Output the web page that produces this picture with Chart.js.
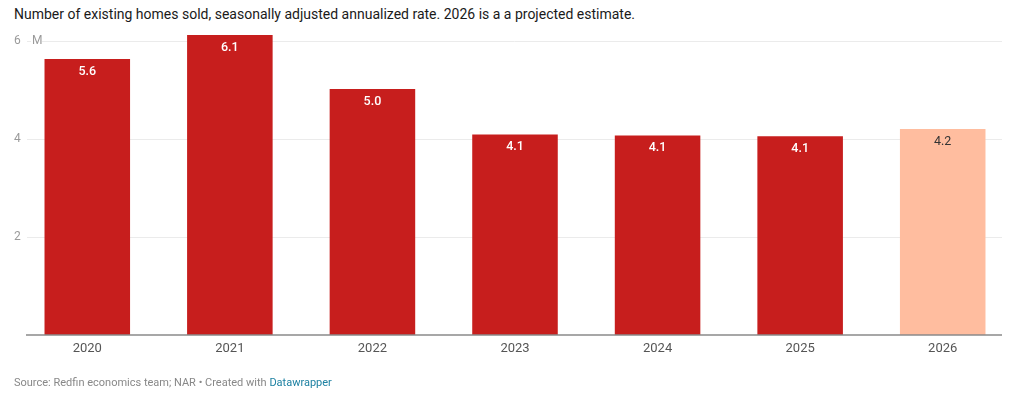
<!DOCTYPE html>
<html>
<head>
<meta charset="utf-8">
<script src="https://cdn.jsdelivr.net/npm/chart.js@4"></script>
<style>
  html, body { margin: 0; padding: 0; background: #fff; }
  body { width: 1027px; height: 404px; position: relative; overflow: hidden; font-family: Roboto, sans-serif; }
  #title { position: absolute; left: 14px; top: 6px; font-size: 14px; color: #1a1a1a; white-space: nowrap; }
  #source { position: absolute; left: 14px; top: 376px; font-size: 11px; color: #888; white-space: nowrap; }
  #source a { color: #1d81a2; text-decoration: none; }
  #wrap { position: absolute; left: 0; top: 0; width: 1027px; height: 404px; }
</style>
</head>
<body>
<div id="title">Number of existing homes sold, seasonally adjusted annualized rate. 2026 is a a projected estimate.</div>
<div id="wrap"><canvas id="chart"></canvas></div>
<div id="source">Source: Redfin economics team; NAR • Created with <a href="#">Datawrapper</a></div>
<script>
// values (millions of homes)
const years = ['2020', '2021', '2022', '2023', '2024', '2025', '2026'];
const homesSold = [5.63, 6.12, 5.02, 4.09, 4.07, 4.055, 4.2];
const yTickValues = [2, 4, 6];
const yUnitLabel = 'M';
const projectedYear = '2026';

const RED = '#c71e1d';
const PROJ = '#ffbd9f';

// gridlines, y labels and baseline (Datawrapper style)
const axisPlugin = {
  id: 'dwAxis',
  beforeDatasetsDraw(chart) {
    const { ctx, chartArea, scales: { y } } = chart;
    const top = yTickValues[yTickValues.length - 1];
    ctx.save();
    ctx.strokeStyle = '#ebebeb';
    ctx.lineWidth = 1;
    yTickValues.forEach(v => {
      const py = Math.round(y.getPixelForValue(v)) + 0.5;
      ctx.beginPath();
      ctx.moveTo(chartArea.left + 11, py);
      ctx.lineTo(chartArea.right - 12, py);
      ctx.stroke();
    });
    ctx.font = '12px Roboto';
    ctx.textBaseline = 'middle';
    ctx.textAlign = 'left';
    yTickValues.forEach(v => {
      const py = y.getPixelForValue(v);
      if (v === top) {
        ctx.fillStyle = '#fff';
        ctx.fillRect(31, py - 6, 11, 12);
      }
      ctx.fillStyle = '#9a9a9a';
      ctx.fillText(String(v), 14, py);
      if (v === top) ctx.fillText(yUnitLabel, 32, py);
    });
    ctx.restore();
  },
  afterDatasetsDraw(chart) {
    const { ctx, chartArea, scales: { y } } = chart;
    ctx.save();
    ctx.strokeStyle = '#8a8a8a';
    ctx.lineWidth = 1.5;
    const py = y.getPixelForValue(0);
    ctx.beginPath();
    ctx.moveTo(chartArea.left + 10, py);
    ctx.lineTo(chartArea.right - 12, py);
    ctx.stroke();

    // value labels inside bar tops
    const meta = chart.getDatasetMeta(0);
    ctx.textAlign = 'center';
    ctx.textBaseline = 'middle';
    meta.data.forEach((bar, i) => {
      const proj = years[i] === projectedYear;
      ctx.fillStyle = proj ? '#333' : '#fff';
      ctx.font = (proj ? '400' : '500') + ' 12.5px Roboto';
      ctx.fillText(homesSold[i].toFixed(1), bar.x, bar.y + 12.5);
    });
    ctx.restore();
  }
};

new Chart(document.getElementById('chart'), {
  type: 'bar',
  data: {
    labels: years,
    datasets: [{
      data: homesSold,
      backgroundColor: years.map(y => y === projectedYear ? PROJ : RED),
      borderWidth: 0,
      barPercentage: 0.6,
      categoryPercentage: 1,
    }],
  },
  options: {
    responsive: true,
    maintainAspectRatio: false,
    animation: false,
    layout: { padding: { left: 16, right: 13, top: 35, bottom: 49 } },
    plugins: { legend: { display: false }, tooltip: { enabled: false } },
    scales: {
      x: {
        grid: { display: false, drawTicks: false },
        border: { display: false },
        ticks: { color: '#555', font: { family: 'Roboto', size: 13 }, padding: 6 },
        afterFit(scale) { scale.height = 20; },
      },
      y: {
        display: false,
        min: 0,
        max: 6.12,
      },
    },
  },
  plugins: [axisPlugin],
});
</script>
</body>
</html>
